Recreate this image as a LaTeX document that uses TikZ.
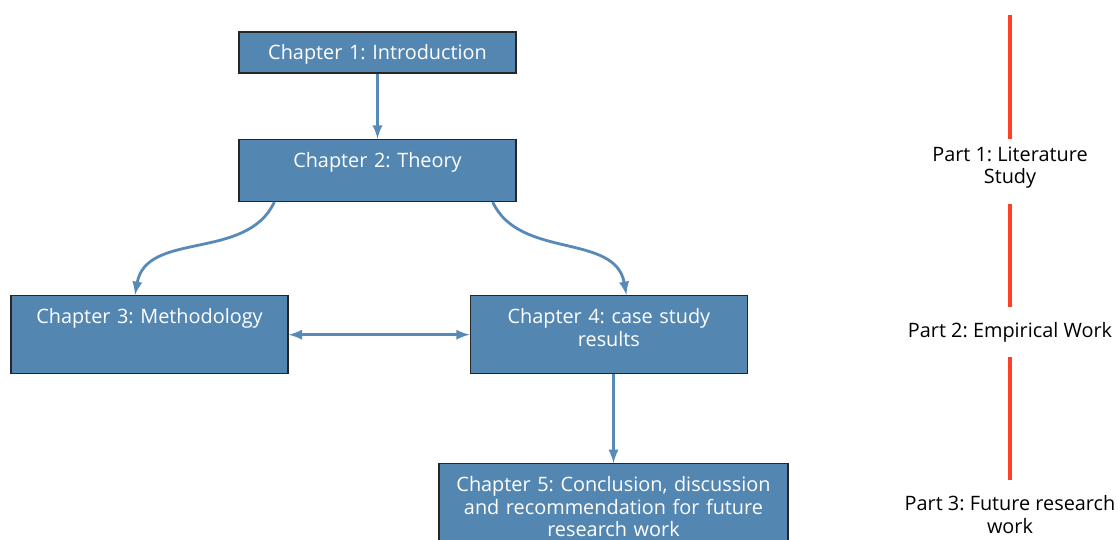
\documentclass[tikz,border=0pt]{standalone}
\usepackage{fontspec}
\setmainfont{Open Sans}
\usepackage{tikz}
\usetikzlibrary{arrows, positioning, calc}
\definecolor{chapblue}{RGB}{84,134,178}
\definecolor{linkblue}{RGB}{88,138,184}
\definecolor{partred}{RGB}{255,64,36}
\frenchspacing

\begin{document}
\begin{tikzpicture}[font=\fontsize{11.3}{12.8}\selectfont,
 chap/.style={rectangle,draw=black!85,thick,fill=chapblue,text=white,align=center,
   inner xsep=0.15cm,inner ysep=0.15cm,text width=5.24cm,text height=0.41cm},
 link/.style={draw=linkblue,line width=1.6pt,-latex},
 part/.style={align=center,inner sep=0.3cm},
 partline/.style={draw=partred,line width=2.3pt}]
 \useasboundingbox (0,0) rectangle (22.36,-10.8);
 \clip (0,0) rectangle (22.36,-10.8);

 % chapters
 \node[chap,text depth=0.11cm] (ch1) at (7.55,-1.05) {Chapter 1: Introduction};
 \node[chap,text depth=0.53cm,below=1.3cm of ch1] (ch2) {Chapter 2: Theory};
 \node[chap,text depth=0.85cm,anchor=north] (ch3) at (2.99,-5.9) {Chapter 3: Methodology};
 \node[chap,text depth=0.85cm,right=3.62cm of ch3] (ch4) {Chapter 4: case study\\ results};
 \node[chap,text width=6.68cm,text depth=1.26cm,anchor=north] (ch5) at (12.27,-9.26)
   {Chapter 5: Conclusion, discussion\\ and recommendation for future\\ research work};

 \draw[link] (ch1) -- (ch2);
 \draw[link] ($(ch2.south west)+(0.72,0)$) to[out=-115,in=80] ($(ch3.north)+(-0.29,0)$);
 \draw[link] ($(ch2.south east)+(-0.48,0)$) to[out=-65,in=100] ($(ch4.north)+(0.35,0)$);
 \draw[link,latex-latex] (ch3) -- (ch4);
 \draw[link] (ch4.south -| ch5.north) -- (ch5);

 % parts
 \node[part] (p1) at (20.2,-3.35) {Part 1: Literature\\ Study};
 \node[part] (p2) at (20.2,-6.64) {Part 2: Empirical Work};
 \node[part] (p3) at (20.2,-10.29) {Part 3: Future research\\ work};
 \coordinate (ptop) at (20.2,-0.3);
 \draw[partline,shorten >=-0.16cm] (ptop) -- (p1);
 \draw[partline] (p1) -- (p2);
 \draw[partline] (p2) -- (p3);
\end{tikzpicture}
\end{document}
